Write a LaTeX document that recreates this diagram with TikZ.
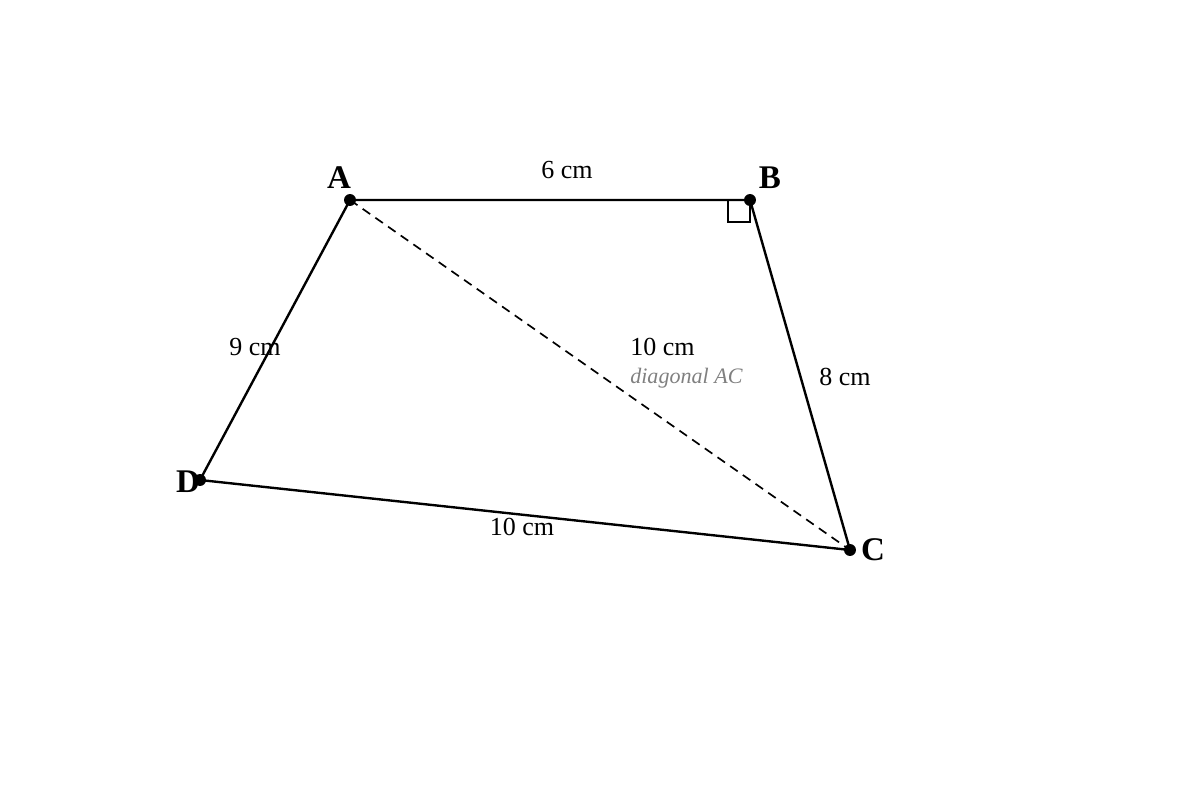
\documentclass[tikz,border=0pt]{standalone}
\usepackage{fontspec}
\setmainfont{Liberation Serif}
\usepackage{xcolor}
\usetikzlibrary{arrows.meta,positioning}

\tikzset{
  vertex/.style={circle, fill=black, inner sep=0pt, minimum size=8.5pt},
  vname/.style={font=\fontsize{23.5}{26}\selectfont\bfseries, inner sep=0pt},
  side/.style={font=\fontsize{18.5}{21}\selectfont, inner sep=0pt},
  edge/.style={line width=1.7pt},
}

\begin{document}
\begin{tikzpicture}[x=0.025cm, y=-0.025cm]
    \useasboundingbox (0,0) rectangle (1200,800);
    % corners of the quadrilateral
    \node[vertex] (A) at (350,200) {};
    \node[vertex] (B) at (750,200) {};
    \node[vertex] (C) at (850,550) {};
    \node[vertex] (D) at (200,480) {};

    \draw[edge] (A.center) -- (B.center) -- (C.center) -- (D.center) -- cycle;
    \draw[line width=1.2pt, dash pattern=on 6.5pt off 4.5pt] (A.center) -- (C.center);

    % right angle at B
    \draw[line width=1.1pt] (728,200) -- (728,222) -- (750,222) -- (750,200);

    \node[vname] (nA) at (339,178) {A};
    \node[vname] (nB) at (770,178) {B};
    \node[vname] (nC) at (873,550) {C};
    \node[vname] (nD) at (188,482) {D};

    \node[side] (ab) at (567,170) {6 cm};
    \node[side] (ad) at (255,347) {9 cm};
    \node[side, anchor=west] (ac) at (630,347) {10 cm};
    \node[anchor=west, inner sep=0pt, text=gray, font=\fontsize{15.7}{18}\selectfont\itshape] (acname) at (630,378) {diagonal AC};
    \node[side] (bc) at (845,377) {8 cm};
    \node[side] (dc) at (522,527) {10 cm};
\end{tikzpicture}
\end{document}
